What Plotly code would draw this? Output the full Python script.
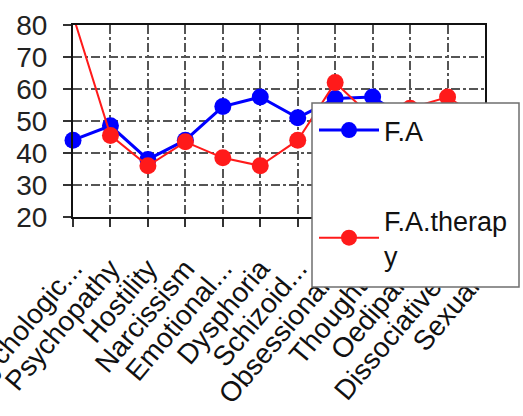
import plotly.graph_objects as go

categories = ["Psychologic...", "Psychopathy", "Hostility", "Narcissism", "Emotional...",
              "Dysphoria", "Schizoid...", "Obsessional...", "Thought...", "Oedipal...",
              "Dissociative...", "Sexual..."]
fa = [44, 48.5, 38, 44, 54.5, 57.5, 51, 57, 57.5, 50, 48, 45]
fa_therapy = [83, 45.5, 36, 43.5, 38.5, 36, 44, 62, 51, 54, 57.5, 50]
y_ticks = [20, 30, 40, 50, 60, 70, 80]

FONT = "Arial, Liberation Sans, sans-serif"
L, R, T, B, W, H = 73, 38, 25, 199, 523, 416
PW, PH = W - L - R, H - T - B


def px_to_paper(x, y):
    return (x - L) / PW, (H - B - y) / PH


fig = go.Figure()
fig.add_trace(go.Scatter(
    x=categories, y=fa, name="F.A", mode="lines+markers",
    line=dict(color="#0000FF", width=3),
    marker=dict(color="#0000FF", size=17),
    cliponaxis=False, legendgroup="a"))
fig.add_trace(go.Scatter(
    x=categories, y=fa_therapy, name="F.A.therap<br>y", mode="lines+markers",
    line=dict(color="#FF1A1A", width=2),
    marker=dict(color="#FF1A1A", size=17),
    cliponaxis=True, legendgroup="b"))

grid = dict(showgrid=True, gridcolor="#555555", gridwidth=1.5, griddash="dashdot")
fig.update_xaxes(
    type="category", categoryorder="array", categoryarray=categories,
    range=[0, len(categories) - 1], tickangle=-50,
    tickfont=dict(family=FONT, size=28, color="#111111"),
    ticks="outside", ticklen=8, tickwidth=1.5, tickcolor="#333333",
    ticklabelstandoff=14,
    showline=True, linecolor="#111111", linewidth=2, mirror=True,
    zeroline=False, **grid)
fig.update_yaxes(
    range=[20, 80], tickvals=y_ticks,
    tickfont=dict(family=FONT, size=28, color="#222222"),
    ticks="outside", ticklen=8, tickwidth=1.5, tickcolor="#333333",
    ticklabelstandoff=10,
    showline=True, linecolor="#111111", linewidth=2, mirror=True,
    zeroline=False, **grid)

# legend frame (box is taller than the legend content in the reference)
x0, y0 = px_to_paper(312, 287)
x1, y1 = px_to_paper(519, 103)
fig.add_shape(type="rect", xref="paper", yref="paper", x0=x0, y0=y0, x1=x1, y1=y1,
              fillcolor="white", line=dict(color="#6f6f6f", width=1.5), layer="above")

lx, ly = px_to_paper(314, 106)
fig.update_layout(
    width=W, height=H,
    margin=dict(l=L, r=R, t=T, b=B, autoexpand=False),
    paper_bgcolor="white", plot_bgcolor="white",
    showlegend=True,
    legend=dict(x=lx, y=ly, xanchor="left", yanchor="top",
                font=dict(family=FONT, size=27, color="#111111"),
                bgcolor="rgba(0,0,0,0)", borderwidth=0,
                tracegroupgap=52, traceorder="grouped", itemwidth=60),
)

fig.write_html("out.html")
